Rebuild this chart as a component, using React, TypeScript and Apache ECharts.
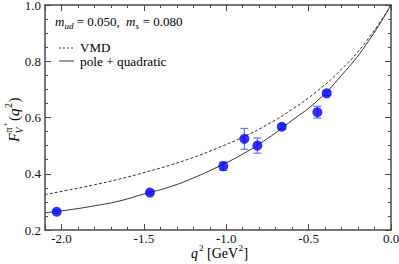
import React, { useEffect, useRef } from "react";
import * as echarts from "echarts";

// Curve samples (q^2 in GeV^2)
const qGrid = [-2.1, -1.95, -1.8, -1.65, -1.5, -1.35, -1.2, -1.05, -0.9, -0.75, -0.6, -0.45, -0.3, -0.15, 0];
const vmdValues = [0.326, 0.343, 0.361, 0.381, 0.404, 0.429, 0.458, 0.492, 0.53, 0.575, 0.629, 0.693, 0.772, 0.871, 1.0];
const poleQuadValues = [0.261, 0.272, 0.286, 0.303, 0.328, 0.352, 0.385, 0.425, 0.47, 0.525, 0.59, 0.658, 0.75, 0.86, 1.0];

// Lattice data points
const latticeQ2 = [-2.029, -1.463, -1.018, -0.89, -0.811, -0.663, -0.447, -0.39];
const latticeF = [0.265, 0.333, 0.427, 0.524, 0.5, 0.567, 0.619, 0.686];
const latticeErr = [0.006, 0.006, 0.015, 0.037, 0.027, 0.008, 0.021, 0.008];

const SERIF = "Liberation Serif";
const AXIS_COLOR = "#4a4a4a";

export default function App() {
  const ref = useRef<HTMLDivElement>(null);
  useEffect(() => {
    document.body.style.margin = "0";
    if (!ref.current) return;
    const chart = echarts.init(ref.current, undefined, { renderer: "svg" });

    const axisLine = { show: true, onZero: false, lineStyle: { color: AXIS_COLOR, width: 1.5 } };
    const fmtX = (v: number) => {
      if (Math.abs(v * 2 - Math.round(v * 2)) > 1e-6) return "";
      if (v < -2.05) return "";
      if (Math.abs(v) < 1e-9) return "0.0";
      return v.toFixed(1);
    };
    const xBase = { type: "value", min: -2.1, max: 0, splitLine: { show: false }, gridIndex: 0 };
    const yBase = { type: "value", min: 0.2, max: 1.0, interval: 0.2, splitLine: { show: false } };

    // text placed by its baseline (converted to a middle anchor)
    const t = (text: string, x: number, baseline: number, size: number, italic = false) => ({
      type: "text",
      x,
      y: baseline - 0.34 * size,
      style: {
        text,
        fontFamily: SERIF,
        fontSize: size,
        lineHeight: Math.round(size * 0.92),
        fontStyle: italic ? "italic" : "normal",
        fill: "#000",
        verticalAlign: "middle",
        align: "left",
      },
    });

    const option: any = {
      animation: false,
      textStyle: { fontFamily: SERIF },
      grid: { left: 45, right: 8, top: 5, bottom: 34, outerBoundsMode: "none", containLabel: false },
      xAxis: [
        {
          ...xBase,
          position: "bottom",
          interval: 0.1,
          axisLine,
          axisTick: { inside: true, length: 3, lineStyle: { color: AXIS_COLOR } },
          axisLabel: { formatter: fmtX, margin: 3, fontFamily: SERIF, fontSize: 13, lineHeight: 10, color: "#111" },
        },
        {
          ...xBase,
          position: "bottom",
          splitNumber: 4,
          axisLine: { show: false },
          axisTick: { inside: true, length: 6, lineStyle: { color: AXIS_COLOR } },
          axisLabel: { show: false },
        },
        {
          ...xBase,
          position: "top",
          interval: 0.1,
          axisLine,
          axisTick: { inside: true, length: 3, lineStyle: { color: AXIS_COLOR } },
          axisLabel: { show: false },
        },
        {
          ...xBase,
          position: "top",
          splitNumber: 4,
          axisLine: { show: false },
          axisTick: { inside: true, length: 6, lineStyle: { color: AXIS_COLOR } },
          axisLabel: { show: false },
        },
      ],
      yAxis: [
        {
          ...yBase,
          position: "left",
          axisLine,
          axisTick: { inside: true, length: 6, lineStyle: { color: AXIS_COLOR } },
          minorTick: { show: true, splitNumber: 4, length: 3, lineStyle: { color: AXIS_COLOR } },
          axisLabel: {
            formatter: (v: number) => v.toFixed(1),
            margin: 4,
            fontFamily: SERIF,
            fontSize: 13,
            lineHeight: 10,
            color: "#111",
          },
        },
        {
          ...yBase,
          position: "right",
          axisLine,
          axisTick: { inside: true, length: 6, lineStyle: { color: AXIS_COLOR } },
          minorTick: { show: true, splitNumber: 4, length: 3, lineStyle: { color: AXIS_COLOR } },
          axisLabel: { show: false },
        },
      ],
      series: [
        {
          type: "line",
          name: "VMD",
          data: qGrid.map((q, i) => [q, vmdValues[i]]),
          showSymbol: false,
          smooth: true,
          lineStyle: { color: "#333", width: 1, type: [3, 2] },
          z: 2,
        },
        {
          type: "line",
          name: "pole + quadratic",
          data: qGrid.map((q, i) => [q, poleQuadValues[i]]),
          showSymbol: false,
          smooth: true,
          lineStyle: { color: "#333", width: 1 },
          z: 2,
        },
        {
          type: "custom",
          name: "err",
          data: latticeQ2.map((q, i) => [q, latticeF[i], latticeErr[i]]),
          z: 3,
          renderItem: (_p: any, api: any) => {
            const x = api.value(0);
            const y = api.value(1);
            const e = api.value(2);
            const top = api.coord([x, y + e]);
            const bot = api.coord([x, y - e]);
            const hw = 4;
            const style = { stroke: "#6d6dff", lineWidth: 1.2 };
            return {
              type: "group",
              children: [
                { type: "line", shape: { x1: top[0], y1: top[1], x2: bot[0], y2: bot[1] }, style },
                { type: "line", shape: { x1: top[0] - hw, y1: top[1], x2: top[0] + hw, y2: top[1] }, style },
                { type: "line", shape: { x1: bot[0] - hw, y1: bot[1], x2: bot[0] + hw, y2: bot[1] }, style },
              ],
            };
          },
        },
        {
          type: "scatter",
          name: "lattice",
          data: latticeQ2.map((q, i) => [q, latticeF[i]]),
          symbol: "circle",
          symbolSize: 10,
          itemStyle: { color: "#0000ff" },
          z: 4,
        },
      ],
      graphic: [
        // parameter line
        t("m", 55, 26, 13, true),
        t("ud", 64.5, 29, 9, true),
        t(" = 0.050,  ", 73.5, 26, 13),
        t("m", 126, 26, 13, true),
        t("s", 135.5, 29, 9, true),
        t(" = 0.080", 139.5, 26, 13),
        // legend
        { type: "line", shape: { x1: 59, y1: 48, x2: 74, y2: 48 }, style: { stroke: "#333", lineWidth: 1, lineDash: [2, 2] } },
        t("VMD", 80, 51.8, 13),
        { type: "line", shape: { x1: 59, y1: 61, x2: 74, y2: 61 }, style: { stroke: "#333", lineWidth: 1 } },
        t("pole + quadratic", 80, 65.8, 13.3),
        // x axis title
        t("q", 191, 258, 14, true),
        t("2", 199, 251, 9),
        t(" [GeV", 203.5, 258, 14),
        t("2", 238.5, 251, 9),
        t("]", 243.5, 258, 14),
        // y axis title (rotated)
        {
          type: "group",
          x: 19,
          y: 142,
          rotation: Math.PI / 2,
          children: [
            t("F", 0, 0, 15, true),
            t("V", 8.5, 4, 10, true),
            t("π", 9.5, -7, 10),
            t("+", 15.5, -10.5, 7),
            t("(", 21, 0, 15),
            t("q", 26, 0, 15, true),
            t("2", 34, -7, 10),
            t(")", 39.5, 0, 15),
          ],
        },
      ],
    };
    chart.setOption(option);
    return () => chart.dispose();
  }, []);
  return <div ref={ref} style={{ width: 399, height: 264 }} />;
}
